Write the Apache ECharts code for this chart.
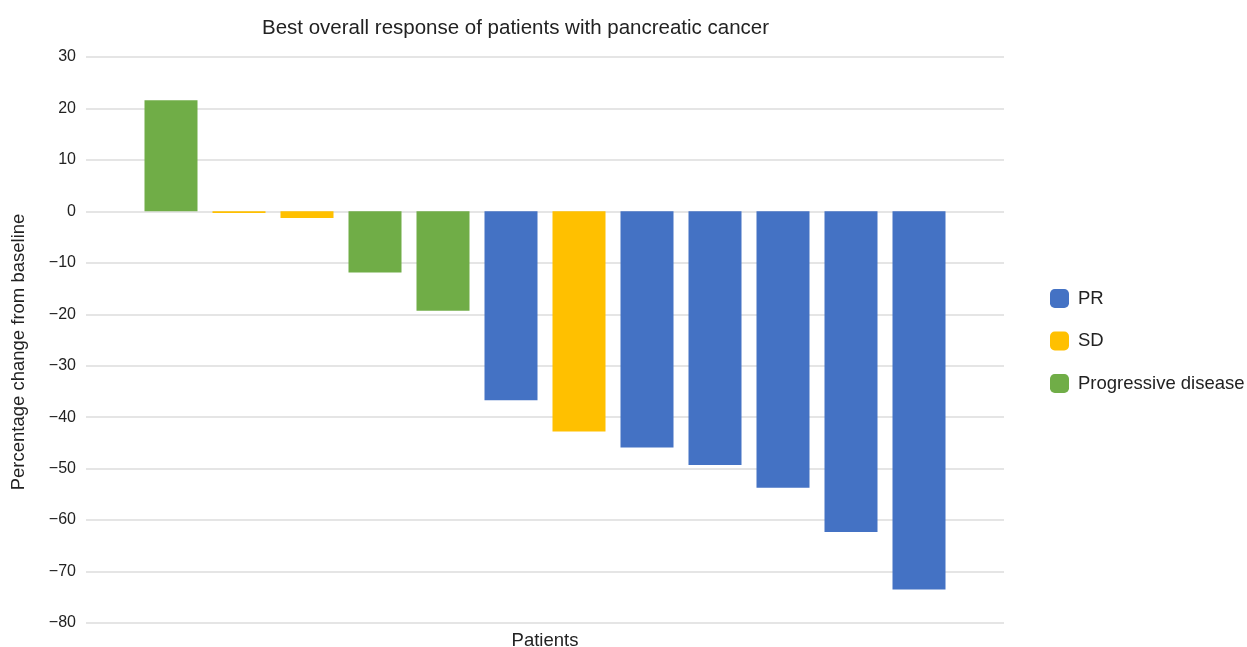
<!DOCTYPE html>
<html>
<head>
<meta charset="utf-8">
<script src="https://cdn.jsdelivr.net/npm/echarts@6/dist/echarts.min.js"></script>
<style>html,body{margin:0;padding:0;background:#fff;}#c{width:1247px;height:647px;}</style>
</head>
<body>
<div id="c"></div>
<script>
const patients = [1, 2, 3, 4, 5, 6, 7, 8, 9, 10, 11, 12];
const changes = [21.6, -0.3, -1.3, -11.9, -19.3, -36.7, -42.8, -45.9, -49.3, -53.7, -62.3, -73.5];
const responses = ['Progressive disease', 'SD', 'SD', 'Progressive disease', 'Progressive disease', 'PR', 'SD', 'PR', 'PR', 'PR', 'PR', 'PR'];
const groups = ['PR', 'SD', 'Progressive disease'];
const colors = {'PR': '#4472C4', 'SD': '#FFC000', 'Progressive disease': '#70AD47'};

const font = 'Liberation Sans, Arial, sans-serif';
const chart = echarts.init(document.getElementById('c'));
const series = groups.map(g => ({
  name: g,
  type: 'bar',
  barWidth: 53,
  barGap: '-100%',
  itemStyle: {color: colors[g]},
  data: patients.map((p, i) => responses[i] === g ? [p, changes[i]] : null).filter(d => d)
}));
chart.setOption({
  animation: false,
  textStyle: {fontFamily: font},
  title: {
    text: 'Best overall response of patients with pancreatic cancer',
    left: 257, top: 13,
    textStyle: {fontSize: 20.5, fontWeight: 'normal', color: '#222', fontFamily: font}
  },
  legend: {
    orient: 'vertical', left: 1045, top: 284,
    itemWidth: 19, itemHeight: 19, itemGap: 23.5, icon: 'roundRect',
    data: groups,
    textStyle: {fontSize: 18.5, color: '#222', fontFamily: font, padding: [0, 0, 0, 4]}
  },
  grid: {left: 86, right: 243, top: 57, bottom: 24, outerBoundsMode: 'none', containLabel: false},
  xAxis: {
    type: 'value', min: -0.25, max: 13.25,
    name: 'Patients', nameLocation: 'middle', nameGap: 8,
    nameTextStyle: {fontSize: 18.5, color: '#222', fontFamily: font},
    axisLine: {show: false}, axisTick: {show: false}, axisLabel: {show: false}, splitLine: {show: false}
  },
  yAxis: {
    type: 'value', min: -80, max: 30, interval: 10,
    name: 'Percentage change from baseline', nameLocation: 'middle', nameGap: 58, nameRotate: 90,
    nameTextStyle: {fontSize: 18.5, color: '#222', fontFamily: font, padding: [0, 24, 0, 0]},
    axisLine: {show: false}, axisTick: {show: false},
    axisLabel: {fontSize: 16, color: '#222', margin: 10, fontFamily: font,
      formatter: v => v < 0 ? '\u2212' + Math.abs(v) : String(v)},
    splitLine: {lineStyle: {color: '#dcdcdc', width: 1.5}}
  },
  series: series
});
</script>
</body>
</html>
